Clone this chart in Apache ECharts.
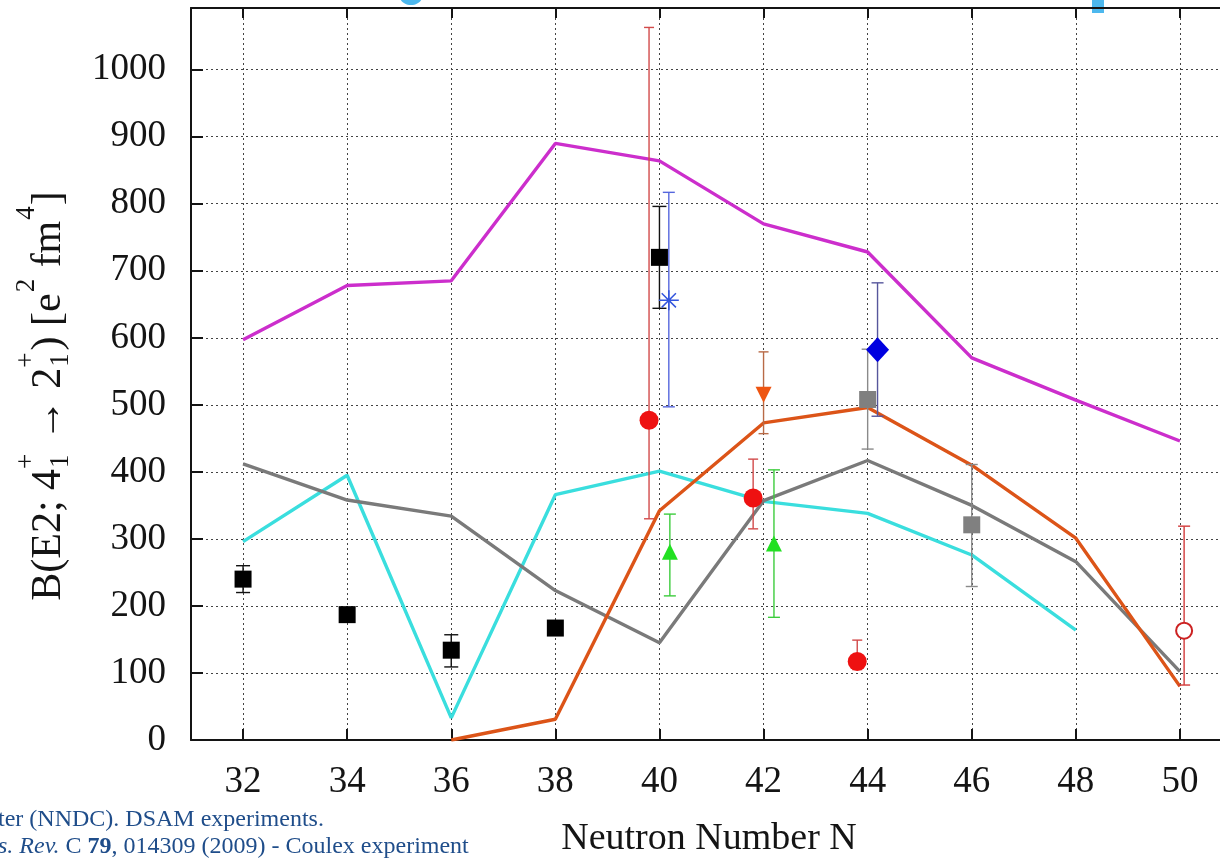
<!DOCTYPE html>
<html>
<head>
<meta charset="utf-8">
<script src="https://cdn.jsdelivr.net/npm/echarts@6/dist/echarts.min.js"></script>
<style>
  html, body { margin: 0; padding: 0; background: #ffffff; }
  #chart { width: 1220px; height: 858px; }
</style>
</head>
<body>
<div id="chart"></div>
<script>
// ---- Calculated curves: B(E2; 4+ -> 2+) versus neutron number ----
const lineN        = [32, 34, 36, 38, 40, 42, 44, 46, 48, 50];
const magentaVals  = [597, 678, 685, 890, 864, 770, 728, 570, 507, 446];
const grayVals     = [412, 358, 334, 223, 145, 357, 417, 350, 266, 102];
const cyanN        = [32, 34, 36, 38, 40, 42, 44, 46, 48];
const cyanVals     = [296, 395, 33, 366, 401, 356, 338, 276, 164];
const orangeN      = [36, 38, 40, 42, 44, 46, 48, 50];
const orangeVals   = [0, 31, 342, 473, 496, 410, 301, 80];

// ---- Measured values: position, value, lower and upper error limits ----
const blackN   = [32, 34, 36, 38, 40];
const blackVal = [240, 187, 134, 167, 720];
const blackLo  = [220, 187, 109, 167, 644];
const blackHi  = [260, 187, 157, 167, 796];

const redN   = [39.8, 41.8, 43.8];
const redVal = [477, 361, 117];
const redLo  = [330, 315, 105];
const redHi  = [1063, 419, 149];

const redOpenN   = [50.08];
const redOpenVal = [163];
const redOpenLo  = [82];
const redOpenHi  = [319];

const greenN   = [40.2, 42.2];
const greenVal = [281, 293];
const greenLo  = [215, 183];
const greenHi  = [337, 403];

const orangeTriN   = [42];
const orangeTriVal = [515];
const orangeTriLo  = [457];
const orangeTriHi  = [579];

const starN   = [40.18];
const starVal = [656];
const starLo  = [497];
const starHi  = [817];

const diamondN   = [44.19];
const diamondVal = [582];
const diamondLo  = [483];
const diamondHi  = [682];

const graySqN   = [44, 46];
const graySqVal = [508, 321];
const graySqLo  = [434, 229];
const graySqHi  = [583, 411];

// ---- Axis settings ----
const xMin = 31, xMax = 51;
const yMin = 0, yMax = 1092, yStep = 100;

const SERIF = '"Liberation Serif", "Times New Roman", "DejaVu Serif", serif';
const INK = '#141414';

const pairs = (xs, ys) => xs.map((x, i) => [x, ys[i]]);

function lineSeries(xs, ys, color) {
  return {
    type: 'line', data: pairs(xs, ys), z: 2,
    symbol: 'none', smooth: false,
    lineStyle: { color: color, width: 3.4, opacity: 1 },
    silent: true
  };
}

function errorBars(xs, lo, hi, color, capHalf) {
  return {
    type: 'custom', z: 3, silent: true, clip: false,
    data: xs.map((x, i) => [x, lo[i], hi[i]]),
    encode: { x: 0, y: [1, 2] },
    renderItem: function (params, api) {
      const x = api.value(0), l = api.value(1), h = api.value(2);
      if (l === h) return null;
      const top = api.coord([x, h]);
      const bot = api.coord([x, l]);
      const st = { stroke: color, lineWidth: 1.4 };
      return {
        type: 'group',
        children: [
          { type: 'line', shape: { x1: top[0], y1: top[1], x2: bot[0], y2: bot[1] }, style: st },
          { type: 'line', shape: { x1: top[0] - capHalf, y1: top[1], x2: top[0] + capHalf, y2: top[1] }, style: st },
          { type: 'line', shape: { x1: bot[0] - capHalf, y1: bot[1], x2: bot[0] + capHalf, y2: bot[1] }, style: st }
        ]
      };
    }
  };
}

function markers(xs, ys, symbol, size, itemStyle, extra) {
  return Object.assign({
    type: 'scatter', data: pairs(xs, ys), z: 4, silent: true,
    symbol: symbol, symbolSize: size,
    itemStyle: Object.assign({ opacity: 1 }, itemStyle)
  }, extra || {});
}

// ---- Rotated y-axis title with stacked sub/superscripts ----
const measureCtx = document.createElement('canvas').getContext('2d');
function textWidth(str, size) {
  measureCtx.font = size + 'px ' + SERIF;
  return measureCtx.measureText(str).width;
}
const MAIN = 42, SMALL = 27, SUP_DY = -22, SUB_DY = 12;
const titleParts = [
  { t: 'B(E2; 4', kind: 'main' },
  { t: '1', sup: '+', kind: 'stack' },
  { t: ' \u2192 2', kind: 'main' },
  { t: '1', sup: '+', kind: 'stack' },
  { t: ') [e', kind: 'main' },
  { t: '2', kind: 'sup' },
  { t: ' fm', kind: 'main' },
  { t: '4', kind: 'sup' },
  { t: ']', kind: 'main' }
];
function buildTitle() {
  const kids = [];
  let lx = 0;
  const txt = (s, x, y, size) => ({
    type: 'text', x: x, y: y,
    style: {
      text: s, fontFamily: SERIF, fontSize: size, fill: INK,
      align: 'left', textAlign: 'left', verticalAlign: 'middle', textVerticalAlign: 'middle'
    }
  });
  titleParts.forEach(p => {
    if (p.kind === 'main') {
      kids.push(txt(p.t, lx, 0, MAIN));
      lx += textWidth(p.t, MAIN);
    } else if (p.kind === 'sup') {
      kids.push(txt(p.t, lx + 1, SUP_DY, SMALL));
      lx += textWidth(p.t, SMALL) + 2;
    } else {
      kids.push(txt(p.t, lx + 1, SUB_DY, SMALL));
      kids.push(txt(p.sup, lx, SUP_DY, SMALL));
      lx += Math.max(textWidth(p.t, SMALL), textWidth(p.sup, SMALL)) + 2;
    }
  });
  return { kids: kids, length: lx };
}
const title = buildTitle();
const titleCenterY = 396;

const option = {
  animation: false,
  backgroundColor: '#ffffff',
  grid: { left: 191, top: 8, right: -12, bottom: 118, outerBoundsMode: 'none', containLabel: false },
  xAxis: [
    {
      type: 'value', min: xMin, max: xMax, splitNumber: 10, position: 'bottom',
      axisLine: { show: true, onZero: false, lineStyle: { color: INK, width: 2 } },
      axisTick: { show: true, inside: true, length: 11, lineStyle: { color: INK, width: 2 } },
      axisLabel: {
        show: true, margin: 24, showMinLabel: false, showMaxLabel: false,
        fontFamily: SERIF, fontSize: 37, color: INK
      },
      splitLine: { show: true, lineStyle: { color: '#444', width: 1, type: [2, 3] } }
    },
    {
      type: 'value', min: xMin, max: xMax, splitNumber: 10, position: 'top',
      axisLine: { show: true, onZero: false, lineStyle: { color: INK, width: 2 } },
      axisTick: { show: true, inside: true, length: 10, lineStyle: { color: INK, width: 2 } },
      axisLabel: { show: false },
      splitLine: { show: false }
    }
  ],
  yAxis: {
    type: 'value', min: yMin, max: yMax, interval: yStep,
    axisLine: { show: true, onZero: false, lineStyle: { color: INK, width: 2 } },
    axisTick: { show: true, inside: true, length: 12, lineStyle: { color: INK, width: 2 } },
    axisLabel: {
      show: true, margin: 25, showMaxLabel: false,
      fontFamily: SERIF, fontSize: 37, color: INK,
      formatter: v => (v > 1000 ? '' : String(v))
    },
    splitLine: { show: true, lineStyle: { color: '#444', width: 1, type: [2, 3] } }
  },
  series: [
    lineSeries(lineN, magentaVals, '#cc2ecc'),
    lineSeries(cyanN, cyanVals, '#3adede'),
    lineSeries(lineN, grayVals, '#7a7a7a'),
    lineSeries(orangeN, orangeVals, '#dc5418'),

    errorBars(blackN, blackLo, blackHi, '#111111', 7),
    errorBars(redN, redLo, redHi, '#d24a4a', 5),
    errorBars(redOpenN, redOpenLo, redOpenHi, '#d23a3a', 6),
    errorBars(greenN, greenLo, greenHi, '#3ccc3c', 6),
    errorBars(orangeTriN, orangeTriLo, orangeTriHi, '#b86a46', 5),
    errorBars(starN, starLo, starHi, '#5566dd', 6),
    errorBars(diamondN, diamondLo, diamondHi, '#56569c', 6),
    errorBars(graySqN, graySqLo, graySqHi, '#8a8a8a', 6),

    markers(blackN, blackVal, 'rect', 17, { color: '#000000' }),
    markers(graySqN, graySqVal, 'rect', 17, { color: '#808080' }),
    markers(redN, redVal, 'circle', 19, { color: '#ee1111' }),
    markers(redOpenN, redOpenVal, 'emptyCircle', 16, { color: '#cc2222', borderColor: '#cc2222', borderWidth: 1.5 }),
    markers(greenN, greenVal, 'triangle', 16, { color: '#22e022' }),
    markers(orangeTriN, orangeTriVal, 'triangle', 16, { color: '#ee5511' }, { symbolRotate: 180 }),
    markers(diamondN, diamondVal, 'diamond', [23, 25], { color: '#0000e0' }),
    markers(starN, starVal,
      'path://M-1,0L1,0M0,-1L0,1M-0.71,-0.71L0.71,0.71M-0.71,0.71L0.71,-0.71',
      20, { color: 'none', borderColor: '#3355dd', borderWidth: 1.5 })
  ],
  graphic: [
    {
      type: 'group', x: 49, y: titleCenterY + title.length / 2, rotation: Math.PI / 2,
      children: title.kids
    },
    {
      type: 'text', x: 709, y: 839,
      style: {
        text: 'Neutron Number N', fontFamily: SERIF, fontSize: 38, fill: INK,
        align: 'center', textAlign: 'center', verticalAlign: 'middle', textVerticalAlign: 'middle'
      }
    },
    {
      type: 'text', x: -2, y: 820,
      style: {
        text: 'ter (NNDC). DSAM experiments.', fontFamily: SERIF, fontSize: 24, fill: '#1f4d8a',
        align: 'left', textAlign: 'left', verticalAlign: 'middle', textVerticalAlign: 'middle'
      }
    },
    {
      type: 'text', x: -2, y: 847,
      style: {
        text: '{i|s. Rev.}{n| C }{b|79}{n|, 014309 (2009) - Coulex experiment}',
        fontFamily: SERIF, fontSize: 24, fill: '#1f4d8a',
        align: 'left', textAlign: 'left', verticalAlign: 'middle', textVerticalAlign: 'middle',
        rich: {
          i: { fontFamily: SERIF, fontSize: 24, fontStyle: 'italic', fill: '#1f4d8a', color: '#1f4d8a' },
          b: { fontFamily: SERIF, fontSize: 24, fontWeight: 'bold', fill: '#1f4d8a', color: '#1f4d8a' },
          n: { fontFamily: SERIF, fontSize: 24, fill: '#1f4d8a', color: '#1f4d8a' }
        }
      }
    },
    // fragments of the heading lettering above the frame
    { type: 'ellipse', shape: { cx: 411, cy: -3, rx: 11, ry: 8 }, style: { fill: '#4db8ee' } },
    { type: 'rect', shape: { x: 1092, y: 0, width: 12, height: 13 }, style: { fill: '#4db8ee' } }
  ]
};

const chart = echarts.init(document.getElementById('chart'), null, { renderer: 'canvas' });
chart.setOption(option);
</script>
</body>
</html>
